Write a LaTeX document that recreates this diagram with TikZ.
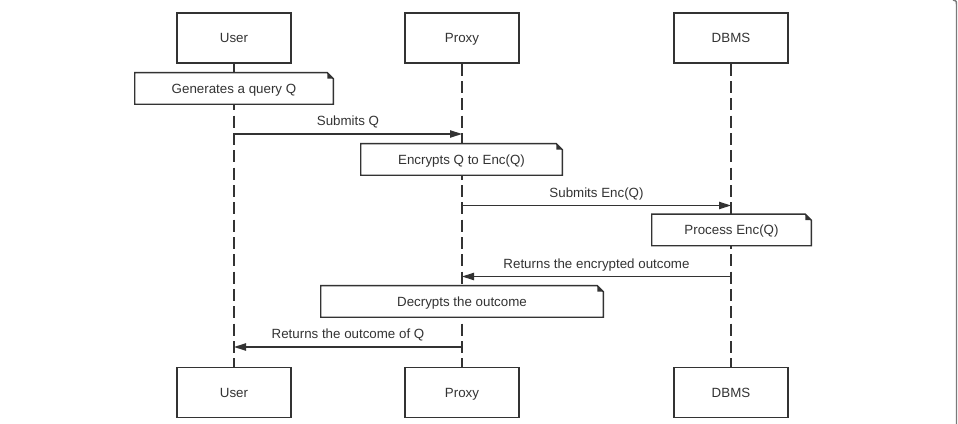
\documentclass[tikz,border=0pt]{standalone}
\usepackage{fontspec}
\setmainfont{Liberation Sans}
\usetikzlibrary{arrows.meta,backgrounds,calc}
\definecolor{ink}{HTML}{333333}
\definecolor{frameGray}{HTML}{7A7A7A}
\tikzset{
  actor box/.style={
    draw=ink,
    fill=white,
    line width=1.1pt,
    minimum width=85.5pt,
    minimum height=37.5pt,
    inner sep=0pt,
    text height=9pt,
    text depth=2pt,
    text=ink,
    font=\fontsize{10}{12}\selectfont
  },
  note box/.style={
    fill=white,
    minimum height=23.25pt,
    inner sep=0pt,
    text height=9pt,
    text depth=2pt,
    text=ink,
    font=\fontsize{10}{12}\selectfont
  },
  note outline/.style={
    draw=ink,
    line width=1.1pt,
    line join=miter
  },
  life line/.style={
    draw=ink,
    line width=1pt,
    dash pattern=on 9pt off 4pt
  },
  message edge/.style={
    -{Triangle[length=9pt,width=5.5pt]},
    draw=ink,
    line width=1pt
  },
  message label/.style={
    above,
    inner sep=3.8pt,
    text height=9pt,
    text depth=2pt,
    text=ink,
    font=\fontsize{10}{12}\selectfont
  }
}
\begin{document}
\begin{tikzpicture}[x=0.75pt,y=-0.75pt]
  \useasboundingbox (0,0) rectangle (958,424);

  % lifeline heads and feet
  \node[actor box] (user-top) at (234,38) {User};
  \node[actor box] (proxy-top) at (462,38) {Proxy};
  \node[actor box] (dbms-top) at (731,38) {DBMS};
  \node[actor box] (user-bot) at (234,392.5) {User};
  \node[actor box] (proxy-bot) at (462,392.5) {Proxy};
  \node[actor box] (dbms-bot) at (731,392.5) {DBMS};

  \begin{scope}[on background layer]
    \draw[life line] (user-top) -- (user-bot);
    \draw[life line] (proxy-top) -- (proxy-bot);
    \draw[life line] (dbms-top) -- (dbms-bot);
  \end{scope}

  % notes
  \node[note box,minimum width=148.5pt] (generate) at (234,88.5) {Generates a query Q};
  \node[note box,minimum width=150.75pt] (encrypt) at (461.5,159.5) {Encrypts Q to Enc(Q)};
  \node[note box,minimum width=119.25pt] (process) at (731.5,230) {Process Enc(Q)};
  \node[note box,minimum width=211.5pt] (decrypt) at (462,301.5) {Decrypts the outcome};
  \foreach \n in {generate,encrypt,process,decrypt} {
    \draw[note outline] (\n.south west) |- ($(\n.north east)+(-6,0)$)
      -- ($(\n.north east)+(0,6)$) -- (\n.south east) -- cycle;
    \fill[ink] ($(\n.north east)+(-6,0)$) -- ($(\n.north east)+(0,6)$)
      -- ($(\n.north east)+(-6,6)$) -- cycle;
  }

  % messages
  \coordinate (submit-q) at (0,134);
  \coordinate (submit-enc) at (0,205.5);
  \coordinate (return-enc) at (0,276.5);
  \coordinate (return-q) at (0,347);
  \draw[message edge] (user-top |- submit-q) -- node[message label] {Submits Q} (proxy-top |- submit-q);
  \draw[message edge] (proxy-top |- submit-enc) -- node[message label] {Submits Enc(Q)} (dbms-top |- submit-enc);
  \draw[message edge] (dbms-top |- return-enc) -- node[message label] {Returns the encrypted outcome} (proxy-top |- return-enc);
  \draw[message edge] (proxy-top |- return-q) -- node[message label] {Returns the outcome of Q} (user-top |- return-q);

  % page frame edge
  \draw[frameGray,line width=1.1pt] (956.5,424) -- (956.5,5) .. controls (956.5,1) .. (953,0);
\end{tikzpicture}
\end{document}
